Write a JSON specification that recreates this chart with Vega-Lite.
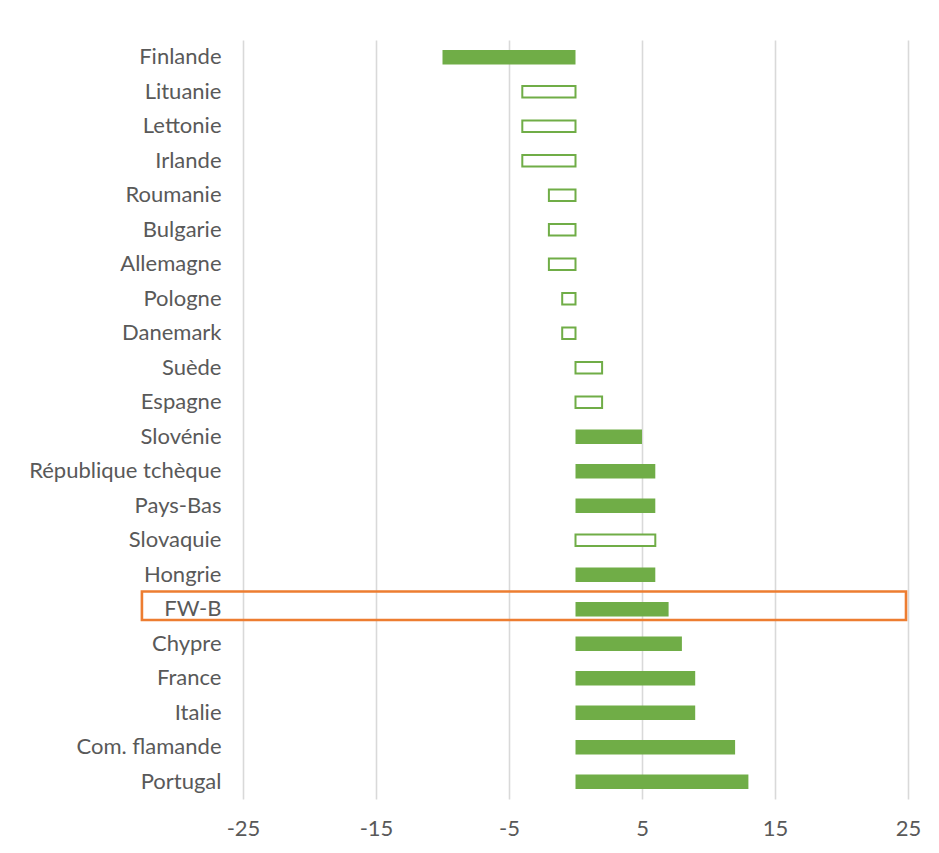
{
  "$schema": "https://vega.github.io/schema/vega-lite/v6.json",
  "width": 665,
  "height": 759,
  "autosize": {"type": "none"},
  "padding": {"left": 243, "top": 40, "right": 31, "bottom": 54},
  "background": "white",
  "config": {
    "view": {"stroke": null},
    "font": "Lato",
    "axis": {"labelFont": "Lato", "labelColor": "#595959", "labelFontSize": 22, "labelLimit": 0}
  },
  "data": {
    "values": [
      {"pays": "Finlande", "valeur": -10, "significatif": true},
      {"pays": "Lituanie", "valeur": -4, "significatif": false},
      {"pays": "Lettonie", "valeur": -4, "significatif": false},
      {"pays": "Irlande", "valeur": -4, "significatif": false},
      {"pays": "Roumanie", "valeur": -2, "significatif": false},
      {"pays": "Bulgarie", "valeur": -2, "significatif": false},
      {"pays": "Allemagne", "valeur": -2, "significatif": false},
      {"pays": "Pologne", "valeur": -1, "significatif": false},
      {"pays": "Danemark", "valeur": -1, "significatif": false},
      {"pays": "Suède", "valeur": 2, "significatif": false},
      {"pays": "Espagne", "valeur": 2, "significatif": false},
      {"pays": "Slovénie", "valeur": 5, "significatif": true},
      {"pays": "République tchèque", "valeur": 6, "significatif": true},
      {"pays": "Pays-Bas", "valeur": 6, "significatif": true},
      {"pays": "Slovaquie", "valeur": 6, "significatif": false},
      {"pays": "Hongrie", "valeur": 6, "significatif": true},
      {"pays": "FW-B", "valeur": 7, "significatif": true},
      {"pays": "Chypre", "valeur": 8, "significatif": true},
      {"pays": "France", "valeur": 9, "significatif": true},
      {"pays": "Italie", "valeur": 9, "significatif": true},
      {"pays": "Com. flamande", "valeur": 12, "significatif": true},
      {"pays": "Portugal", "valeur": 13, "significatif": true}
    ]
  },
  "encoding": {
    "y": {
      "field": "pays",
      "type": "nominal",
      "title": null,
      "scale": {
        "domain": ["Finlande", "Lituanie", "Lettonie", "Irlande", "Roumanie", "Bulgarie", "Allemagne", "Pologne", "Danemark", "Suède", "Espagne", "Slovénie", "République tchèque", "Pays-Bas", "Slovaquie", "Hongrie", "FW-B", "Chypre", "France", "Italie", "Com. flamande", "Portugal"],
        "paddingInner": 0,
        "paddingOuter": 0
      },
      "axis": {"domain": false, "ticks": false, "grid": false, "labelPadding": 22}
    }
  },
  "layer": [
    {
      "mark": {"type": "bar", "opacity": 0},
      "encoding": {
        "x": {
          "field": "valeur",
          "type": "quantitative",
          "title": null,
          "scale": {"domain": [-25, 25], "nice": false, "zero": false},
          "axis": {
            "values": [-25, -15, -5, 5, 15, 25],
            "labelExpr": "'' + datum.value",
            "labelFlush": false,
            "domain": false,
            "ticks": false,
            "grid": true,
            "gridColor": "#d9d9d9",
            "gridWidth": 1.6,
            "labelPadding": 19
          }
        }
      }
    },
    {
      "mark": {"type": "rule", "color": "#d9d9d9", "strokeWidth": 1.6},
      "data": {"values": [{"zero": 0}]},
      "encoding": {"x": {"field": "zero", "type": "quantitative"}}
    },
    {
      "transform": [{"filter": "datum.significatif"}],
      "mark": {"type": "bar", "color": "#70ad47", "height": {"band": 0.415}},
      "encoding": {"x": {"field": "valeur", "type": "quantitative"}, "x2": {"datum": 0}}
    },
    {
      "transform": [{"filter": "!datum.significatif"}],
      "mark": {"type": "bar", "fill": "white", "stroke": "#70ad47", "strokeWidth": 2, "height": {"band": 0.33}},
      "encoding": {"x": {"field": "valeur", "type": "quantitative"}, "x2": {"datum": 0}}
    },
    {
      "data": {"values": [{"pays": "FW-B", "debut": -32.6, "fin": 24.85}]},
      "mark": {"type": "bar", "fill": null, "fillOpacity": 0, "stroke": "#ed7d31", "strokeWidth": 2.6, "height": {"band": 0.823}, "yOffset": -3.5},
      "encoding": {
        "x": {"field": "debut", "type": "quantitative"},
        "x2": {"field": "fin"}
      }
    }
  ]
}
